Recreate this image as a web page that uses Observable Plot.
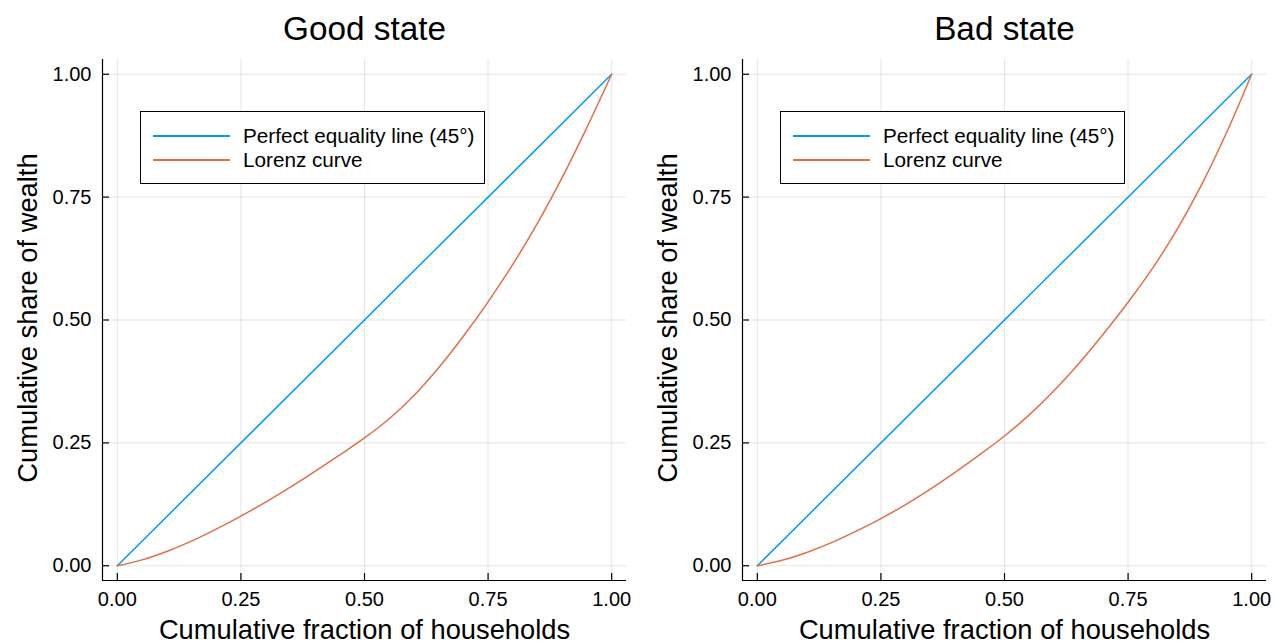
<!DOCTYPE html>
<html>
<head>
<meta charset="utf-8">
<script src="https://cdn.jsdelivr.net/npm/d3@7"></script>
<script src="https://cdn.jsdelivr.net/npm/@observablehq/plot@0.6"></script>
<style>
  html, body { margin: 0; padding: 0; background: #fff; overflow: hidden; }
  #wrap { position: relative; width: 1276px; height: 642px; display: flex; }
  .panel { position: relative; }
  .legend { position: absolute; border: 1px solid #000; background: #fff; box-sizing: border-box;
            font-family: "Liberation Sans", Arial, Helvetica, sans-serif; }
  .legend .ln { position: absolute; height: 1.6px; }
  .legend .tx { position: absolute; font-size: 20.7px; line-height: 1; white-space: nowrap; color: #000; }
</style>
</head>
<body>
<div id="wrap"></div>
<script>
// ---- data ----
const fractions = [0, 0.05, 0.10, 0.15, 0.20, 0.25, 0.30, 0.35, 0.40, 0.45, 0.50,
                   0.55, 0.60, 0.65, 0.70, 0.75, 0.80, 0.85, 0.90, 0.95, 1.00];
const lorenzGood = [0, 0.012, 0.029, 0.050, 0.0745, 0.101, 0.1295, 0.160, 0.192, 0.2255, 0.260,
                    0.299, 0.3465, 0.403, 0.467, 0.537, 0.613, 0.697, 0.790, 0.892, 1.000];
const lorenzBad  = [0, 0.011, 0.027, 0.047, 0.0705, 0.096, 0.1245, 0.156, 0.190, 0.226, 0.264,
                    0.307, 0.356, 0.411, 0.4715, 0.536, 0.606, 0.686, 0.778, 0.883, 1.000];
const equalityX = [0, 1];
const equalityY = [0, 1];
const tickValues = [0, 0.25, 0.5, 0.75, 1];
const titles = ["Good state", "Bad state"];
const xLabel = "Cumulative fraction of households";
const yLabel = "Cumulative share of wealth";
const legendLabels = ["Perfect equality line (45°)", "Lorenz curve"];
const seriesColors = ["#009AFA", "#E26F46"];

// ---- layout ----
const FONT = '"Liberation Sans", Arial, Helvetica, sans-serif';
const domain = [-0.03, 1.03];
const ML = 102, MT = 59, MB = 62, H = 642;
const fmt = d3.format(".2f");

function panel(title, lorenz, width, marginRight) {
  const plotW = width - ML - marginRight;
  const plotH = H - MT - MB;
  const lorenzData = fractions.map((x, i) => ({x, y: lorenz[i]}));
  const eqData = equalityX.map((x, i) => ({x, y: equalityY[i]}));
  const svg = Plot.plot({
    width, height: H,
    marginLeft: ML, marginRight, marginTop: MT, marginBottom: MB,
    style: {fontFamily: FONT, background: "#fff", color: "#000", overflow: "visible"},
    x: {domain},
    y: {domain},
    marks: [
      Plot.gridX(tickValues, {stroke: "#000", strokeOpacity: 0.1, strokeWidth: 1}),
      Plot.gridY(tickValues, {stroke: "#000", strokeOpacity: 0.1, strokeWidth: 1}),
      Plot.line(eqData, {x: "x", y: "y", stroke: seriesColors[0], strokeWidth: 1.5}),
      Plot.line(lorenzData, {x: "x", y: "y", stroke: seriesColors[1], strokeWidth: 1.5, curve: "catmull-rom"}),
      Plot.ruleX([domain[0]], {stroke: "#000", strokeWidth: 1.2}),
      Plot.ruleY([domain[0]], {stroke: "#000", strokeWidth: 1.2}),
      Plot.tickX(tickValues, {x: d => d, insetTop: plotH - 7, stroke: "#000", strokeWidth: 1.2}),
      Plot.tickY(tickValues, {y: d => d, insetRight: plotW - 7, stroke: "#000", strokeWidth: 1.2}),
      Plot.axisX(tickValues, {tickSize: 0, tickPadding: 11, fontSize: 20, tickFormat: fmt, label: null}),
      Plot.axisY(tickValues, {tickSize: 0, tickPadding: 11, fontSize: 20, tickFormat: fmt, label: null}),
      Plot.text([title], {frameAnchor: "top", dy: -20, lineAnchor: "bottom", textAnchor: "middle", fontSize: 33.3, text: d => d}),
      Plot.text([xLabel], {frameAnchor: "bottom", dy: 58, lineAnchor: "bottom", textAnchor: "middle", fontSize: 27.3, text: d => d}),
      Plot.text([yLabel], {frameAnchor: "left", dx: -66, dy: -2, rotate: -90, lineAnchor: "bottom", textAnchor: "middle", fontSize: 27.3, text: d => d})
    ]
  });
  const div = document.createElement("div");
  div.className = "panel";
  div.style.width = width + "px";
  div.style.height = H + "px";
  div.appendChild(svg);

  // legend box
  const lg = document.createElement("div");
  lg.className = "legend";
  lg.style.left = "140px";
  lg.style.top = "111px";
  lg.style.width = "345px";
  lg.style.height = "73px";
  legendLabels.forEach((lab, i) => {
    const ln = document.createElement("div");
    ln.className = "ln";
    ln.style.left = "12px";
    ln.style.width = "77px";
    ln.style.top = (23 + i * 24.3) + "px";
    ln.style.background = seriesColors[i];
    lg.appendChild(ln);
    const tx = document.createElement("div");
    tx.className = "tx";
    tx.style.left = "102px";
    tx.style.top = (13.5 + i * 24.3) + "px";
    tx.textContent = lab;
    lg.appendChild(tx);
  });
  div.appendChild(lg);
  return div;
}

const wrap = document.getElementById("wrap");
wrap.appendChild(panel(titles[0], lorenzGood, 640, 14));
wrap.appendChild(panel(titles[1], lorenzBad, 636, 10));
</script>
</body>
</html>
